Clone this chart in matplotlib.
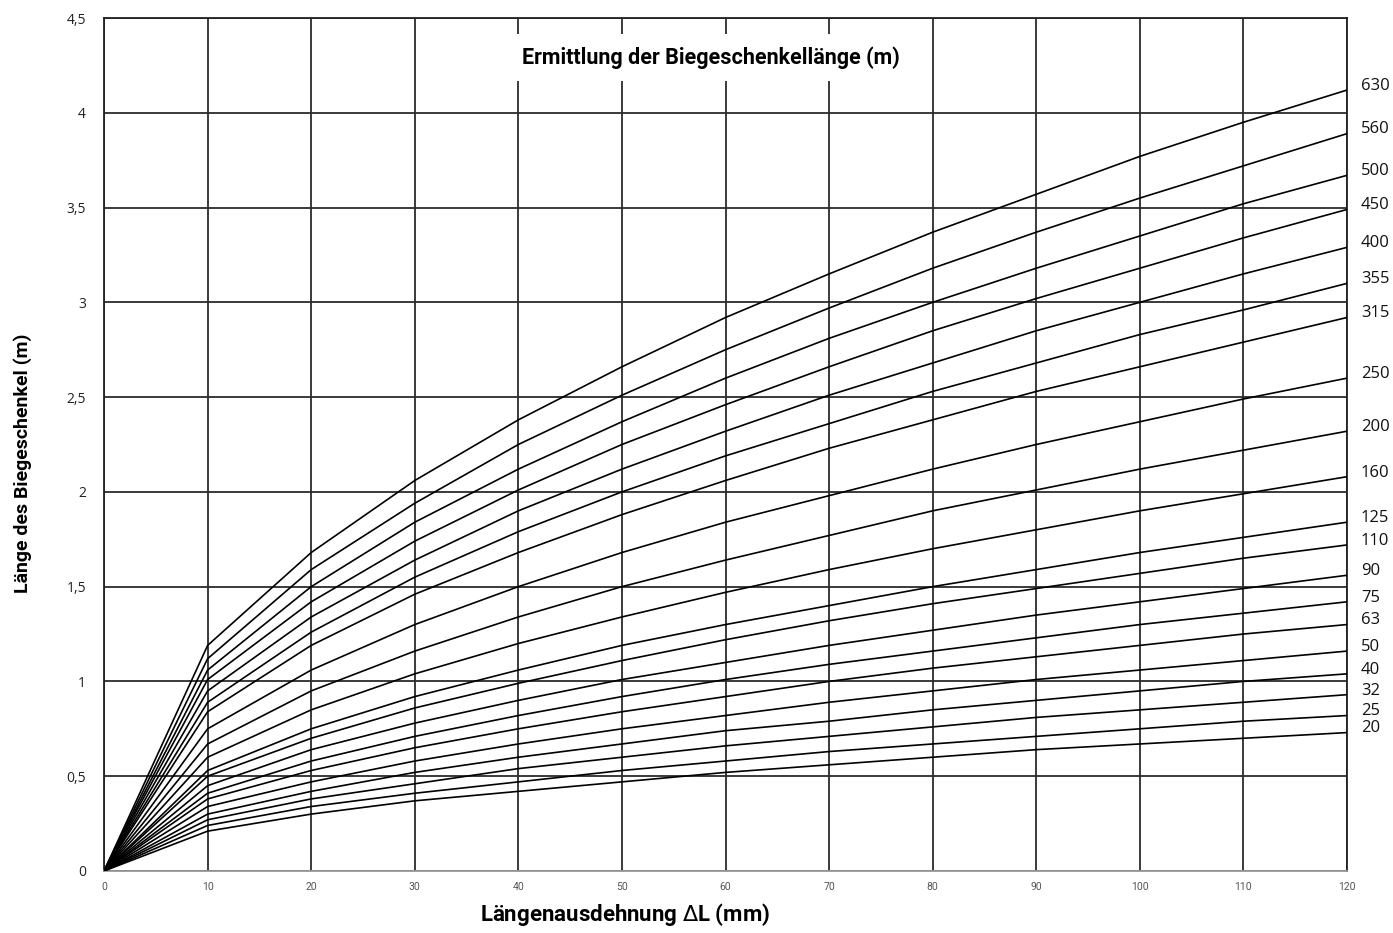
import numpy as np
import matplotlib
matplotlib.use("Agg")
import matplotlib.pyplot as plt

# Laengenausdehnung (mm)
dl = [0, 10, 20, 30, 40, 50, 60, 70, 80, 90, 100, 110, 120]

d630 = [1.19, 1.68, 2.06, 2.38, 2.66, 2.92, 3.15, 3.37, 3.57, 3.77, 3.95, 4.12]
d560 = [1.12, 1.59, 1.94, 2.25, 2.51, 2.75, 2.97, 3.18, 3.37, 3.55, 3.72, 3.89]
d500 = [1.06, 1.50, 1.84, 2.12, 2.37, 2.60, 2.81, 3.00, 3.18, 3.35, 3.52, 3.67]
d450 = [1.01, 1.42, 1.74, 2.01, 2.25, 2.46, 2.66, 2.85, 3.02, 3.18, 3.34, 3.49]
d400 = [0.95, 1.34, 1.64, 1.90, 2.12, 2.32, 2.51, 2.68, 2.85, 3.00, 3.15, 3.29]
d355 = [0.89, 1.26, 1.55, 1.79, 2.00, 2.19, 2.36, 2.53, 2.68, 2.83, 2.96, 3.10]
d315 = [0.84, 1.19, 1.46, 1.68, 1.88, 2.06, 2.23, 2.38, 2.53, 2.66, 2.79, 2.92]
d250 = [0.75, 1.06, 1.30, 1.50, 1.68, 1.84, 1.98, 2.12, 2.25, 2.37, 2.49, 2.60]
d200 = [0.67, 0.95, 1.16, 1.34, 1.50, 1.64, 1.77, 1.90, 2.01, 2.12, 2.22, 2.32]
d160 = [0.60, 0.85, 1.04, 1.20, 1.34, 1.47, 1.59, 1.70, 1.80, 1.90, 1.99, 2.08]
d125 = [0.53, 0.75, 0.92, 1.06, 1.19, 1.30, 1.40, 1.50, 1.59, 1.68, 1.76, 1.84]
d110 = [0.50, 0.70, 0.86, 0.99, 1.11, 1.22, 1.32, 1.41, 1.49, 1.57, 1.65, 1.72]
d90 = [0.45, 0.64, 0.78, 0.90, 1.01, 1.10, 1.19, 1.27, 1.35, 1.42, 1.49, 1.56]
d75 = [0.41, 0.58, 0.71, 0.82, 0.92, 1.01, 1.09, 1.16, 1.23, 1.30, 1.36, 1.42]
d63 = [0.38, 0.53, 0.65, 0.75, 0.84, 0.92, 1.00, 1.07, 1.13, 1.19, 1.25, 1.30]
d50 = [0.34, 0.47, 0.58, 0.67, 0.75, 0.82, 0.89, 0.95, 1.01, 1.06, 1.11, 1.16]
d40 = [0.30, 0.42, 0.52, 0.60, 0.67, 0.74, 0.79, 0.85, 0.90, 0.95, 1.00, 1.04]
d32 = [0.27, 0.38, 0.46, 0.54, 0.60, 0.66, 0.71, 0.76, 0.81, 0.85, 0.89, 0.93]
d25 = [0.24, 0.34, 0.41, 0.47, 0.53, 0.58, 0.63, 0.67, 0.71, 0.75, 0.79, 0.82]
d20 = [0.21, 0.30, 0.37, 0.42, 0.47, 0.52, 0.56, 0.60, 0.64, 0.67, 0.70, 0.73]

durchmesser = [630, 560, 500, 450, 400, 355, 315, 250, 200, 160,
               125, 110, 90, 75, 63, 50, 40, 32, 25, 20]
kurven = [d630, d560, d500, d450, d400, d355, d315, d250, d200, d160,
          d125, d110, d90, d75, d63, d50, d40, d32, d25, d20]

ytick_vals = [0, 0.5, 1, 1.5, 2, 2.5, 3, 3.5, 4, 4.5]
ytick_labels = ["0", "0,5", "1", "1,5", "2", "2,5", "3", "3,5", "4", "4,5"]

narrow = ["Roboto", "DejaVu Sans"]
plain = ["Open Sans", "DejaVu Sans"]

fig = plt.figure(figsize=(13.93, 9.33), dpi=100)
ax = fig.add_axes([0.0747, 0.0665, 0.8923, 0.9142])

for d, werte in zip(durchmesser, kurven):
    y = [0] + werte
    ax.plot(dl, y, color="black", lw=1.2, zorder=3, solid_joinstyle="miter")
    ax.annotate(str(d), xy=(dl[-1], y[-1]), xytext=(10, 3),
                textcoords="offset points", ha="left", va="center",
                fontsize=12, family=plain, color="#111111",
                annotation_clip=False)

ax.set_xlim(0, 120)
ax.set_ylim(0, 4.5)
ax.set_xticks(np.arange(0, 121, 10))
ax.set_xticklabels([str(v) for v in range(0, 121, 10)],
                   family=narrow, fontsize=7.5, color="#555555")
ax.set_yticks(ytick_vals)
ax.set_yticklabels(ytick_labels, family=plain, fontsize=10, color="#222222")
ax.tick_params(axis="both", length=0)
ax.tick_params(axis="x", pad=8)
ax.tick_params(axis="y", pad=13)

ax.grid(True, color="#2b2b2b", lw=1.3, zorder=1)
for s in ["left", "right", "top"]:
    ax.spines[s].set_color("#222222")
    ax.spines[s].set_linewidth(1.3)
ax.spines["bottom"].set_color("#999999")
ax.spines["bottom"].set_linewidth(1.3)

ax.text(0.488, 0.9535, "Ermittlung der Biegeschenkellänge (m)",
        transform=ax.transAxes, ha="center", va="center",
        fontsize=15.5, fontweight="bold", family=narrow, zorder=5,
        bbox=dict(facecolor="white", edgecolor="none", pad=9))

fig.text(0.4485, 0.02, "Längenausdehnung $\\Delta$L (mm)", ha="center",
         va="center", fontsize=16, fontweight="bold", family=narrow)
fig.text(0.016, 0.503, "Länge des Biegeschenkel (m)", ha="center",
         va="center", rotation=90, fontsize=14, fontweight="bold",
         family=narrow)

fig.savefig("out.png", dpi=100, facecolor="white")
